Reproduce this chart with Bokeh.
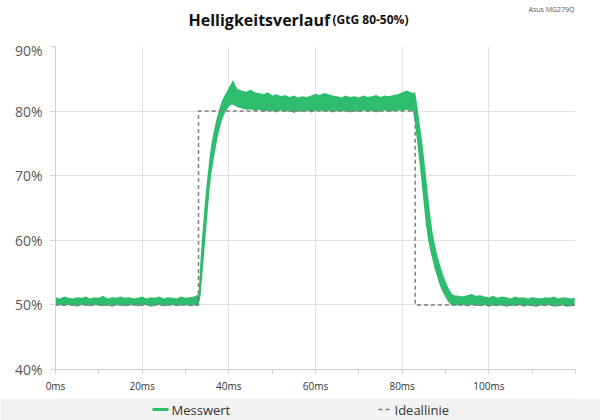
from bokeh.plotting import figure
from bokeh.models import Range1d, FixedTicker
from bokeh.layouts import column
from bokeh.core.properties import value
from bokeh.embed import file_html
from bokeh.resources import INLINE

# ---- data ----
t_ms = [0, 1, 2, 3, 4, 5, 6, 7, 8, 9, 10, 11, 12, 13, 14, 15, 16, 17, 18, 19, 20,
        21, 22, 23, 24, 25, 26, 27, 28, 29, 30, 31, 32,
        33.0, 33.5, 34.0, 34.5, 35.0, 35.5, 36.0, 36.5, 37.0, 37.5, 38.0, 38.5,
        39.0, 39.5, 40.0, 40.5, 41.0, 41.5, 42.0,
        43, 44, 45, 46, 47, 48, 49, 50, 51, 52, 53, 54, 55, 56, 57, 58, 59, 60,
        61, 62, 63, 64, 65, 66, 67, 68, 69, 70, 71, 72, 73, 74, 75, 76, 77, 78,
        79, 80, 81, 82,
        82.5, 83.0, 83.5, 84.0, 84.5, 85.0, 85.5, 86.0, 86.5, 87.0, 87.5, 88.0,
        88.5, 89.0, 89.5, 90.0, 90.5, 91.0, 91.5, 92.0,
        93, 94, 95, 96, 97, 98, 99, 100, 101, 102, 103, 104, 105, 106, 107, 108,
        109, 110, 111, 112, 113, 114, 115, 116, 117, 118, 119, 119.8]

messwert_upper = [51.2, 51.0, 51.3, 51.1, 51.0, 51.2, 51.1, 51.3, 51.0, 51.2,
                  51.1, 51.4, 51.0, 51.2, 51.1, 51.3, 51.1, 51.2, 51.0, 51.1,
                  51.3, 51.0, 51.2, 51.1, 51.3, 51.0, 51.2, 51.1, 51.0, 51.3,
                  51.1, 51.2, 51.3,
                  51.6, 57.5, 62.0, 66.0, 69.5, 72.5, 75.0, 76.8, 78.3, 79.6,
                  80.8, 81.7, 82.4, 83.0, 83.6, 84.2, 84.8, 84.0, 83.4,
                  83.2, 83.0, 83.3, 82.9, 82.8, 82.6, 82.9, 82.4, 82.6, 82.3,
                  82.5, 82.2, 82.4, 82.1, 82.3, 82.2, 82.4, 82.7, 82.5, 82.8,
                  82.6, 82.4, 82.3, 82.1, 82.4, 82.2, 82.3, 82.1, 82.4, 82.2,
                  82.3, 82.5, 82.2, 82.4, 82.3, 82.5, 82.6, 82.9, 83.2, 82.9,
                  82.8, 82.9, 80.8, 78.3, 75.8, 73.0, 70.0, 66.8, 63.8, 61.3,
                  59.6, 58.0, 56.7, 55.6, 54.6, 53.7, 52.9, 52.2, 51.7, 51.5,
                  51.4, 51.3, 51.5, 51.7, 51.4, 51.5, 51.3, 51.2, 51.4, 51.1,
                  51.3, 51.2, 51.0, 51.3, 51.1, 51.2, 51.0, 51.2, 51.1, 51.0,
                  51.2, 51.1, 51.3, 51.0, 51.2, 51.1, 51.0, 51.1]

messwert_lower = [49.9, 50.0, 49.8, 50.0, 49.9, 49.7, 50.0, 49.9, 49.8, 50.0,
                  49.9, 49.8, 50.0, 49.7, 49.9, 50.0, 49.8, 49.9, 50.0, 49.8,
                  49.9, 50.0, 49.7, 49.9, 50.0, 49.8, 49.9, 50.0, 49.8, 49.9,
                  50.0, 49.8, 49.9,
                  49.9, 51.5, 55.5, 59.5, 63.5, 67.5, 70.5, 72.5, 74.5, 76.2,
                  77.6, 78.8, 79.6, 80.2, 80.7, 81.0, 81.0, 80.8, 80.6,
                  80.4, 80.2, 80.3, 80.0, 80.2, 79.9, 80.1, 80.0, 79.8, 80.1,
                  79.9, 80.0, 79.7, 80.0, 79.9, 80.1, 79.8, 80.0, 80.1, 79.9,
                  80.0, 79.8, 80.0, 79.9, 80.1, 79.8, 80.0, 79.9, 80.1, 79.9,
                  80.0, 79.8, 80.0, 80.1, 79.9, 80.0, 80.1, 80.0, 80.2, 80.0,
                  80.0, 77.8, 75.0, 72.0, 68.8, 65.5, 62.3, 60.0, 58.3, 57.0,
                  55.6, 54.5, 53.4, 52.5, 51.8, 51.2, 50.6, 50.2, 49.9, 49.9,
                  49.9, 50.0, 49.8, 50.0, 49.9, 49.8, 50.0, 49.7, 49.9, 49.8,
                  50.0, 49.7, 49.9, 49.8, 50.0, 49.7, 49.9, 49.8, 49.7, 49.9,
                  49.8, 50.0, 49.7, 49.8, 49.9, 49.7, 49.8, 49.9]

ideal_t = [0, 33, 33, 83, 83, 120]
ideal_v = [50, 50, 80, 80, 50, 50]

x_ticks = [0, 20, 40, 60, 80, 100]
x_tick_labels = ["0ms", "20ms", "40ms", "60ms", "80ms", "100ms"]
x_minor_ticks = [10, 30, 50, 70, 90, 110, 120]
y_ticks = [40, 50, 60, 70, 80, 90]
y_tick_labels = ["40%", "50%", "60%", "70%", "80%", "90%"]

title_main = "Helligkeitsverlauf"
title_sub = "(GtG 80-50%)"
device = "Asus MG279Q"
series_names = ["Messwert", "Ideallinie"]

GREEN = "#2ebd6e"
DASH = "#7f7f7f"
FONT = "Open Sans"
LB, RB = 55, 25          # left / right borders (frames are aligned in the column)
FRAME_W = 600 - LB - RB  # 520 px

# ---- title strip ----
head = figure(width=600, height=40, x_range=Range1d(0, FRAME_W), y_range=Range1d(0, 40),
              output_backend="svg", toolbar_location=None,
              min_border_left=LB, min_border_right=RB, min_border_top=0, min_border_bottom=0,
              x_axis_location=None, y_axis_location=None)
head.grid.visible = False
head.outline_line_color = None
head.background_fill_color = "white"
head.border_fill_color = "white"
head.text(x=[133], y=[21], text=[title_main], text_font=value(FONT), text_font_style="bold",
          text_font_size="16px", text_color="#111111", text_baseline="alphabetic")
head.text(x=[277], y=[21], text=[title_sub], text_font=value(FONT), text_font_style="bold",
          text_font_size="12px", text_color="#111111", text_baseline="alphabetic")
head.text(x=[519], y=[31], text=[device], text_font=value(FONT), text_font_size="7px",
          text_color="#595959", text_align="right", text_baseline="alphabetic")

# ---- main chart ----
p = figure(width=600, height=358, x_range=Range1d(0, 120), y_range=Range1d(40, 90),
           output_backend="svg", toolbar_location=None,
           min_border_left=LB, min_border_right=RB, min_border_top=6, min_border_bottom=29)
p.outline_line_color = None
p.background_fill_color = "white"
p.border_fill_color = "white"

p.varea(x=t_ms, y1=messwert_lower, y2=messwert_upper, fill_color=GREEN)
p.line(ideal_t, ideal_v, line_color=DASH, line_dash="4 3", line_width=1.5)

p.xaxis.ticker = FixedTicker(ticks=x_ticks, minor_ticks=x_minor_ticks)
p.xaxis.major_label_overrides = dict(zip(x_ticks, x_tick_labels))
p.yaxis.ticker = FixedTicker(ticks=y_ticks, minor_ticks=[])
p.yaxis.major_label_overrides = dict(zip(y_ticks, y_tick_labels))

for ax in (p.xaxis[0], p.yaxis[0]):
    ax.axis_line_color = "#d0d0d0"
    ax.major_tick_line_color = "#d0d0d0"
    ax.minor_tick_line_color = "#d0d0d0"
    ax.major_tick_in = 0
    ax.minor_tick_in = 0
    ax.major_label_text_font = FONT

p.xaxis.major_tick_out = 4
p.xaxis.minor_tick_out = 4
p.xaxis.major_label_standoff = 5
p.xaxis.major_label_text_font_size = "10px"
p.xaxis.major_label_text_color = "#333333"

p.yaxis.major_tick_out = 5
p.yaxis.major_label_standoff = 8
p.yaxis.major_label_text_font_size = "14px"
p.yaxis.major_label_text_color = "#595959"

p.xgrid.grid_line_color = "#e2e2e2"
p.ygrid.grid_line_color = "#e2e2e2"

# ---- legend band ----
band = figure(width=600, height=22, x_range=Range1d(0, FRAME_W), y_range=Range1d(0, 22),
              output_backend="svg", toolbar_location=None,
              min_border_left=LB, min_border_right=RB, min_border_top=0, min_border_bottom=0,
              x_axis_location=None, y_axis_location=None)
band.grid.visible = False
band.outline_line_color = None
band.background_fill_color = "#f2f2f2"
band.border_fill_color = "#f2f2f2"
band.line(x=[97, 113], y=[11, 11], line_color=GREEN, line_width=3)
band.line(x=[323, 336], y=[11, 11], line_color=DASH, line_dash="4 3", line_width=1.5)
band.text(x=[116, 339], y=[11, 11], text=series_names, text_font=value(FONT),
          text_font_size="13px", text_color="#333333", text_baseline="middle")

layout = column(head, p, band, spacing=0)
open("out.html", "w").write(file_html(layout, INLINE))
